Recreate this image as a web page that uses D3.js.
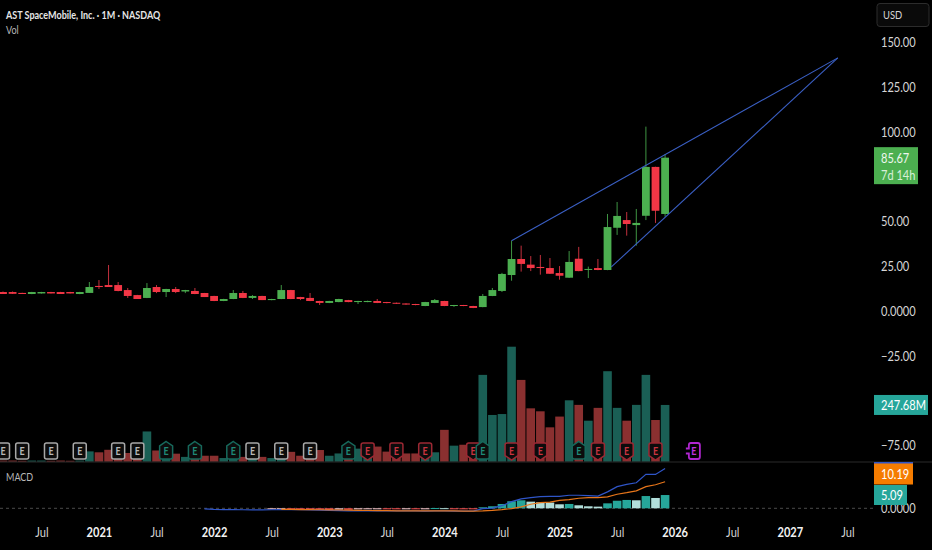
<!DOCTYPE html>
<html>
<head>
<meta charset="utf-8">
<style>
  html, body { margin: 0; padding: 0; background: #000; overflow: hidden; }
  text { font-family: "Lato", "Liberation Sans", sans-serif; }
  .axis text { fill: #d6d6d6; font-size: 13.5px; }
  .axis path, .axis line { display: none; }
</style>
<script src="https://cdn.jsdelivr.net/npm/d3@7"></script>
</head>
<body>
<script>
// month index 0 = Mar 2020, index 69 = Dec 2025
const opens = [10.6,10.6,10.1,9.5,9.8,10.6,10.6,10.6,9.5,10.1,14.0,14.5,14.5,11.7,8.9,7.3,13.4,10.6,12.3,10.9,11.2,10.06,8.4,5.6,6.7,10.06,7.3,8.4,6.1,6.7,11.7,7.8,7.3,5.6,4.5,5.0,6.1,5.0,5.0,5.6,5.0,4.6,4.2,3.9,2.8,4.5,5.6,2.8,3.35,2.8,2.2,8.4,11.2,20.1,29.05,25.9,24.6,24.0,21.2,18.6,29.2,23.1,24.0,22.9,46.5,50.8,48.0,53.2,80.5,54.2]
const highs = [10.9,10.9,10.2,10.7,10.7,10.7,10.7,10.7,10.7,16.2,17.3,25.7,16.2,12.85,9.0,15.6,14.5,12.4,13.4,11.8,12.85,10.1,8.5,6.8,11.7,11.2,8.9,8.5,6.8,14.5,11.8,7.9,10.06,5.7,5.7,6.8,6.2,5.7,5.8,6.7,5.1,4.7,4.3,4.0,5.1,6.7,5.7,3.4,3.4,2.9,9.5,12.85,21.3,39.3,36.5,30.7,31.3,29.6,25.1,33.5,35.8,24.8,29.05,54.2,60.9,55.3,57.0,103.0,80.6,87.7]
const lows = [9.5,9.5,9.5,9.4,9.7,9.8,9.5,9.8,9.4,10.1,12.3,13.4,11.0,7.3,6.7,7.2,10.0,7.8,10.0,10.0,9.4,7.8,5.5,5.5,6.6,7.2,6.7,6.1,6.0,6.6,6.6,6.1,5.5,3.35,4.4,4.9,4.9,3.9,4.9,4.4,4.3,4.0,3.5,3.2,2.7,4.4,2.7,2.3,2.7,1.6,2.1,8.3,10.6,16.9,22.0,22.3,20.3,20.7,17.5,18.5,22.2,18.4,22.8,22.8,42.5,42.1,36.5,50.8,49.2,52.7]
const closes = [9.5,9.6,9.5,10.6,10.6,9.8,9.5,9.8,10.6,13.4,13.4,13.4,11.2,8.4,6.7,12.85,10.6,12.3,10.6,11.7,9.5,7.8,5.6,6.7,10.06,7.3,8.4,6.1,6.7,11.7,6.7,6.7,5.6,4.5,5.6,6.7,5.0,5.6,5.6,4.5,4.5,4.1,3.6,3.35,5.0,6.1,2.8,3.35,2.8,1.7,8.4,11.7,20.7,29.05,26.3,24.0,24.0,20.8,19.7,27.4,22.3,23.5,22.9,46.9,53.1,48.6,49.2,80.5,56.0,85.67]
const volumes = [5,5,4,5,5,4,5,4,5,45,41,52,52,38,22,132,49,13,35,21,22,26,26,16,17,21,12,21,16,13,43,26,52,51,26,36,48,57,44,66,44,44,36,36,35,41,139,70,74,79,379,204,208,502,357,233,220,150,197,268,248,179,235,395,235,179,248,379,182,247.68]

const histValues = [null,null,null,null,null,null,null,null,null,null,null,null,null,null,null,null,null,null,null,null,null,null,null,null,null,null,null,null,-0.2,-0.1,-0.3,-0.35,-0.5,-0.6,-0.7,-0.5,-0.55,-0.4,-0.3,-0.2,-0.25,-0.3,-0.2,-0.25,-0.15,0.1,0.05,-0.1,-0.15,-0.2,0.38,0.77,1.66,2.7,3.07,2.55,2.3,2.2,1.53,1.66,1.15,0.77,0.64,1.9,2.9,3.2,3.07,4.7,3.96,5.09]
const macdValues = [null,null,null,null,null,null,null,null,null,null,null,null,null,null,null,null,null,null,null,null,null,-0.2,-0.4,-0.5,-0.5,-0.55,-0.6,-0.6,-0.55,-0.5,-0.5,-0.55,-0.6,-0.7,-0.8,-0.9,-1,-1,-1,-1,-1,-1,-1,-1,-1.1,-1,-1,-1.1,-1.1,-1.1,-0.1,0.1,1.0,2.55,3.6,4.1,4.5,4.6,4.6,5.0,5.0,4.85,4.7,6.3,8.3,9.2,9.8,13.0,13.0,15.3]
const signalValues = [null,null,null,null,null,null,null,null,null,null,null,null,null,null,null,null,null,null,null,null,null,null,null,null,null,null,null,null,null,-0.4,-0.45,-0.5,-0.5,-0.55,-0.6,-0.65,-0.7,-0.8,-0.85,-0.9,-0.9,-0.95,-1,-1,-1,-1,-1,-1,-1.1,-1.1,-1.0,-0.8,-0.5,-0.1,0.53,1.55,2.2,2.4,3.07,3.34,3.85,4.08,4.06,4.4,5.4,6.0,6.7,8.3,9.04,10.19]

const earningsIndex = [0,2,5,8,12,14,17,20,24,26,29,32,36,38,41,44,49,50,53,56,60,62,65,68,72]
const earningsKind = ['n','n','n','n','n','n','u','u','u','n','n','n','u','d','d','d','d','u','d','d','u','d','d','d','f']

const priceTicks = [150,125,100,50,25,0,-25,-75]
const timeTickIndex = [4,10,16,22,28,34,40,46,52,58,64,70,76,82,88]
const timeTickLabels = ['Jul','2021','Jul','2022','Jul','2023','Jul','2024','Jul','2025','Jul','2026','Jul','2027','Jul']

const upperTrendIndex = [53,87]
const upperTrendPrice = [39.3,141.4]
const lowerTrendIndex = [63.4,87]
const lowerTrendPrice = [24.6,141.4]

const width = 932
const height = 550
const upColor = '#4caf50'
const downColor = '#f23645'
const upWick = '#3f9443'
const downWick = '#c2303d'

const svg = d3.select('body').append('svg')
  .attr('width', width)
  .attr('height', height)
  .style('display', 'block')

svg.append('rect').attr('width', width).attr('height', height).attr('fill', '#000')

const xScale = d3.scaleLinear().domain([0, 88]).range([3, 847.4])
const priceScale = d3.scaleLinear().domain([0, 150]).range([311, 42.5])
const volScale = d3.scaleLinear().domain([0, 502]).range([461.7, 346.7])
const macdScale = d3.scaleLinear().domain([0, 15.3]).range([508.3, 468.4])

const rows = closes.map((c, i) => ({ i, o: opens[i], h: highs[i], l: lows[i], c, v: volumes[i], up: c >= opens[i] }))

// volume
svg.append('g').selectAll('rect')
  .data(rows)
  .enter()
  .append('rect')
  .attr('x', d => xScale(d.i) - 4.3)
  .attr('width', 8.6)
  .attr('y', d => volScale(d.v))
  .attr('height', d => volScale(0) - volScale(d.v))
  .attr('fill', d => d.up ? '#1a5f55' : '#8a3030')

// candles
const candles = svg.append('g')
candles.selectAll('line')
  .data(rows)
  .enter()
  .append('line')
  .attr('x1', d => xScale(d.i))
  .attr('x2', d => xScale(d.i))
  .attr('y1', d => priceScale(d.h))
  .attr('y2', d => priceScale(d.l))
  .attr('stroke', d => d.up ? upWick : downWick)
  .attr('stroke-width', 1)
candles.selectAll('rect')
  .data(rows)
  .enter()
  .append('rect')
  .attr('x', d => xScale(d.i) - 3.9)
  .attr('width', 7.8)
  .attr('y', d => priceScale(Math.max(d.o, d.c)))
  .attr('height', d => Math.max(1, Math.abs(priceScale(d.o) - priceScale(d.c))))
  .attr('fill', d => d.up ? upColor : downColor)

// trend lines
const trendLine = d3.line().x(d => xScale(d[0])).y(d => priceScale(d[1]))
svg.append('path')
  .attr('d', trendLine(d3.zip(upperTrendIndex, upperTrendPrice)))
  .attr('fill', 'none').attr('stroke', '#3a5fc4').attr('stroke-width', 1.1)
svg.append('path')
  .attr('d', trendLine(d3.zip(lowerTrendIndex, lowerTrendPrice)))
  .attr('fill', 'none').attr('stroke', '#3a5fc4').attr('stroke-width', 1.1)

// earnings markers
const markerPaths = {
  n: 'M-4.5,-8H4.5Q6.5,-8 6.5,-6V6Q6.5,8 4.5,8H-4.5Q-6.5,8 -6.5,6V-6Q-6.5,-8 -4.5,-8Z',
  u: 'M0,-9.5L6.5,-5V6Q6.5,8 4.5,8H-4.5Q-6.5,8 -6.5,6V-5Z',
  d: 'M-4.5,-8H4.5Q6.5,-8 6.5,-6V4.5L0,9L-6.5,4.5V-6Q-6.5,-8 -4.5,-8Z',
  f: 'M-3,-8H4Q6,-8 6,-6V6Q6,8 4,8H-3Q-5,8 -5,6V2.5H-8M-8,-2.5H-5V-6Q-5,-8 -3,-8'
}
const markerColors = { n: '#a8a8a8', u: '#17695c', d: '#9c2833', f: '#b026d0' }
const markers = svg.append('g').selectAll('g')
  .data(earningsIndex.map((idx, k) => ({ idx, kind: earningsKind[k] })))
  .enter()
  .append('g')
  .attr('transform', d => 'translate(' + xScale(d.idx) + ',451)')
markers.append('path')
  .attr('d', d => markerPaths[d.kind])
  .attr('fill', d => d.kind === 'f' ? '#000' : '#0c0c0c')
  .attr('stroke', d => markerColors[d.kind])
  .attr('stroke-width', d => d.kind === 'f' ? 1.8 : 1.5)
markers.append('text')
  .attr('text-anchor', 'middle')
  .attr('y', 4)
  .attr('font-size', 11)
  .attr('font-weight', 'bold')
  .attr('fill', d => d.kind === 'n' ? '#b8b8b8' : d.kind === 'u' ? '#1f8a78' : d.kind === 'd' ? '#c93440' : '#c030e0')
  .text('E')

// pane separator
svg.append('line')
  .attr('x1', 0).attr('x2', width).attr('y1', 462).attr('y2', 462)
  .attr('stroke', '#2a2a2a')

// macd pane
svg.append('line')
  .attr('x1', 0).attr('x2', 873)
  .attr('y1', macdScale(0)).attr('y2', macdScale(0))
  .attr('stroke', '#4a4a4a').attr('stroke-dasharray', '3,3')

const histRows = histValues.map((v, i) => ({ i, v, prev: histValues[i - 1] })).filter(d => d.v !== null)
function histColor (d) {
  const rising = d.prev === null || d.prev === undefined || d.v >= d.prev
  if (d.v >= 0) return rising ? '#26a69a' : '#b2dfdb'
  return rising ? '#ffcdd2' : '#ff5252'
}
svg.append('g').selectAll('rect')
  .data(histRows)
  .enter()
  .append('rect')
  .attr('x', d => xScale(d.i) - 4.3)
  .attr('width', 8.6)
  .attr('y', d => d.v >= 0 ? macdScale(d.v) : macdScale(0))
  .attr('height', d => Math.max(1, Math.abs(macdScale(d.v) - macdScale(0))))
  .attr('fill', histColor)

const macdLine = d3.line()
  .defined(d => d[1] !== null)
  .x(d => xScale(d[0]))
  .y(d => macdScale(d[1]))
svg.append('path')
  .attr('d', macdLine(macdValues.map((v, i) => [i, v])))
  .attr('fill', 'none').attr('stroke', '#2f55c8').attr('stroke-width', 1.2)
svg.append('path')
  .attr('d', macdLine(signalValues.map((v, i) => [i, v])))
  .attr('fill', 'none').attr('stroke', '#e8761a').attr('stroke-width', 1.2)

// axes
svg.append('g')
  .attr('class', 'axis')
  .attr('transform', 'translate(875,0)')
  .call(d3.axisRight(priceScale)
    .tickValues(priceTicks)
    .tickSize(0)
    .tickPadding(6)
    .tickFormat(d => d === 0 ? '0.0000' : d3.format('.2f')(d).replace('-', '\u2212')))

svg.append('g')
  .attr('class', 'axis')
  .attr('transform', 'translate(0,524)')
  .call(d3.axisBottom(xScale)
    .tickValues(timeTickIndex)
    .tickSize(0)
    .tickPadding(3)
    .tickFormat((d, k) => timeTickLabels[k]))
  .selectAll('text')
  .attr('font-weight', (d, k) => timeTickLabels[k] === 'Jul' ? 'normal' : 'bold')
  .style('fill', (d, k) => timeTickLabels[k] === 'Jul' ? '#d6d6d6' : '#f2f2f2')

svg.append('text').attr('x', 881).attr('y', macdScale(0) + 5).attr('font-size', 13.5).attr('fill', '#d6d6d6').text('0.0000')

// price tags
function tag (x, y, w, h, color, lines) {
  svg.append('rect').attr('x', x).attr('y', y).attr('width', w).attr('height', h).attr('fill', color)
  lines.forEach(l => {
    svg.append('text').attr('x', x + 7).attr('y', l.y).attr('font-size', 13.5).attr('fill', l.color || '#fff').text(l.text)
  })
}
tag(874, priceScale(closes[69]) - 10.5, 44, 37, '#4caf50', [
  { text: '85.67', y: 163, color: '#eef7ee' },
  { text: '7d 14h', y: 180, color: '#d8efd9' }
])
tag(874, volScale(volumes[69]) - 10, 54, 20, '#26a69a', [{ text: '247.68M', y: 410 }])
svg.append('rect').attr('x', 874).attr('y', 462).attr('width', 39).attr('height', 2).attr('fill', '#2f55c8')
tag(874, 463.5, 39, 21, '#f57c00', [{ text: '10.19', y: 479 }])
tag(874, 485, 33, 20, '#26a69a', [{ text: '5.09', y: 500 }])

// currency box
svg.append('rect')
  .attr('x', 877).attr('y', 3.5).attr('width', 52).attr('height', 23).attr('rx', 3)
  .attr('fill', '#0a0a0a').attr('stroke', '#2c2c2c')
svg.append('text').attr('x', 883).attr('y', 19).attr('font-size', 11.5).attr('fill', '#d6d6d6').text('USD')

// titles
svg.append('text').attr('x', 6).attr('y', 19).attr('font-size', 11).attr('font-weight', 'bold').attr('fill', '#e6e6e6').text('AST SpaceMobile, Inc. \u00b7 1M \u00b7 NASDAQ')
svg.append('text').attr('x', 6).attr('y', 34).attr('font-size', 11).attr('fill', '#b8b8b8').text('Vol')
svg.append('text').attr('x', 6).attr('y', 481).attr('font-size', 11).attr('fill', '#b8b8b8').text('MACD')

// the reference font runs narrow, squeeze every label to match
svg.selectAll('text').each(function () {
  d3.select(this)
    .attr('textLength', this.getComputedTextLength() * 0.82)
    .attr('lengthAdjust', 'spacingAndGlyphs')
})
</script>
</body>
</html>
